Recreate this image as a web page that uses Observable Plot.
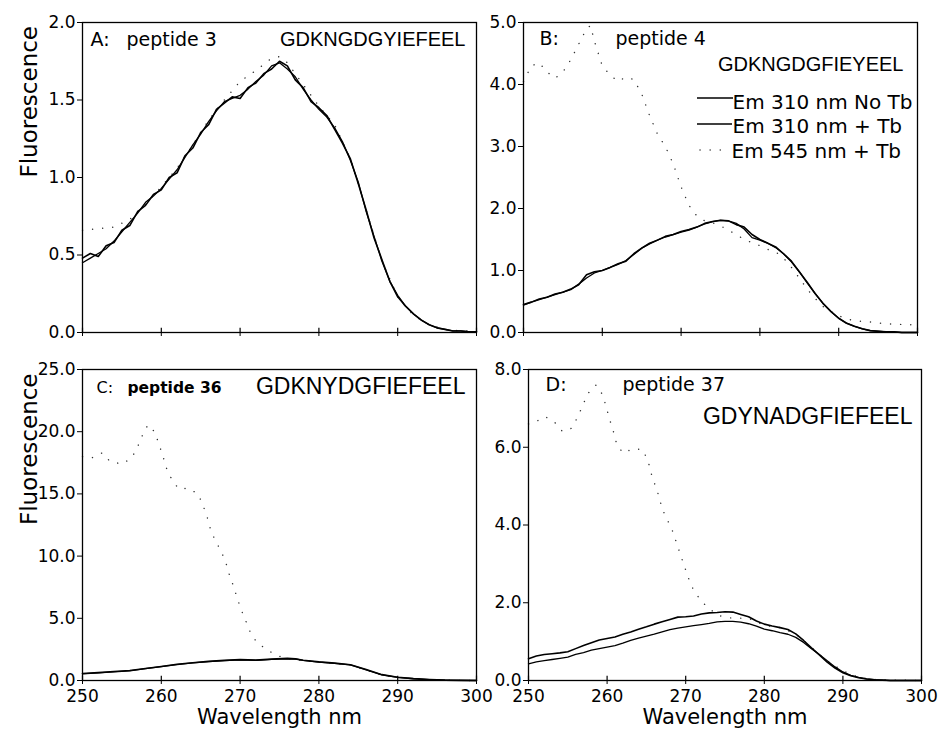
<!DOCTYPE html>
<html><head><meta charset="utf-8">
<script src="https://cdn.jsdelivr.net/npm/d3@7"></script>
<script src="https://cdn.jsdelivr.net/npm/@observablehq/plot@0.6"></script>
<style>
body{margin:0;background:#fff;}
#wrap{position:relative;width:939px;height:730px;overflow:hidden;background:#fff;}
#wrap svg{position:absolute;overflow:visible;}
</style></head><body><div id="wrap"></div>
<script>
// ---------- data ----------
const xTicks = [250, 260, 270, 280, 290, 300];
const seriesNames = ["Em 310 nm No Tb", "Em 310 nm + Tb", "Em 545 nm + Tb"];

// Panel A: peptide 3
const nmA = d3.range(250, 301, 1);
const aNoTb = [0.45,0.48,0.51,0.54,0.59,0.65,0.71,0.77,0.84,0.88,0.93,0.99,1.05,1.13,1.21,1.28,1.36,1.43,1.49,1.51,1.53,1.57,1.62,1.66,1.72,1.74,1.70,1.65,1.57,1.50,1.44,1.39,1.32,1.23,1.11,0.97,0.78,0.62,0.46,0.33,0.24,0.17,0.12,0.08,0.05,0.03,0.02,0.01,0.01,0.005,0.005];
const aTb   = [0.48,0.51,0.49,0.56,0.58,0.66,0.69,0.78,0.82,0.89,0.92,1.00,1.03,1.14,1.19,1.29,1.34,1.44,1.48,1.52,1.51,1.58,1.61,1.67,1.70,1.75,1.72,1.63,1.58,1.49,1.45,1.40,1.31,1.22,1.12,0.96,0.79,0.61,0.47,0.33,0.23,0.17,0.12,0.08,0.05,0.03,0.02,0.01,0.01,0.005,0.005];
const nmA545 = [250,252,254,256,258,260,262,264,266,268,270,272,274,275,276,278,280,282,284,286,288,290,292,294,296,298,300];
const aEm545 = [0.66,0.67,0.68,0.73,0.83,0.94,1.06,1.21,1.37,1.50,1.62,1.69,1.77,1.78,1.74,1.60,1.46,1.34,1.12,0.79,0.46,0.23,0.11,0.05,0.02,0.01,0.01];

// Panel B: peptide 4
const nmB = d3.range(250, 301, 1);
const bNoTb = [0.44,0.49,0.53,0.57,0.61,0.65,0.69,0.78,0.88,0.96,1.00,1.05,1.10,1.16,1.26,1.36,1.43,1.49,1.54,1.58,1.62,1.65,1.70,1.75,1.79,1.81,1.80,1.76,1.67,1.53,1.49,1.44,1.37,1.27,1.14,0.98,0.80,0.63,0.47,0.34,0.23,0.15,0.10,0.06,0.03,0.02,0.01,0.01,0,0,0];
const bTb   = [0.45,0.49,0.54,0.57,0.62,0.65,0.70,0.77,0.93,0.98,1.00,1.05,1.11,1.15,1.27,1.36,1.44,1.49,1.55,1.58,1.63,1.66,1.70,1.76,1.79,1.81,1.80,1.74,1.70,1.58,1.50,1.44,1.38,1.27,1.15,0.98,0.81,0.63,0.47,0.34,0.23,0.15,0.10,0.06,0.03,0.02,0.01,0.01,0,0,0];
const nmB545 = [250,251,252,253,254,255,256,257,258,258.5,259,260,261,262,263,264,265,266,267,268,269,270,271,272,273,274,275,276,277,278,279,280,281,282,283,284,285,286,287,288,289,290,291,292,294,296,298,300];
const bEm545 = [4.05,4.30,4.35,4.20,4.10,4.20,4.40,4.65,4.90,4.95,4.70,4.30,4.15,4.05,4.12,4.08,3.85,3.50,3.20,3.00,2.72,2.35,2.05,1.88,1.80,1.77,1.72,1.65,1.58,1.50,1.45,1.40,1.34,1.30,1.20,1.05,0.88,0.70,0.55,0.42,0.34,0.27,0.22,0.19,0.17,0.14,0.13,0.12];

// Panel C: peptide 36
const nmC = [250,252,254,256,258,260,262,264,266,268,270,272,274,276,277,278,280,282,284,286,288,290,292,294,296,298,300];
const cNoTb = [0.54,0.62,0.70,0.78,0.95,1.12,1.28,1.42,1.52,1.60,1.66,1.62,1.70,1.75,1.73,1.62,1.48,1.38,1.25,0.85,0.45,0.25,0.14,0.07,0.03,0.01,0];
const cTb   = [0.56,0.63,0.72,0.80,0.97,1.13,1.30,1.43,1.54,1.62,1.68,1.64,1.72,1.78,1.74,1.63,1.50,1.40,1.27,0.88,0.47,0.26,0.15,0.08,0.03,0.01,0];
const nmC545 = [250,251.2,252.5,253.5,255.1,256.3,257,257.6,258.3,259.2,259.7,260.2,260.6,261.3,262.2,263.5,264.7,265.3,265.8,266.2,266.8,267.6,268.2,268.6,269.1,269.6,270.1,270.7,271.3,272.1,273.4,274.7,276,278,280,282,284,286,288,290,292,294,296,298,300];
const cEm545 = [18.0,17.9,18.3,17.6,17.4,17.95,18.8,19.7,20.55,19.96,18.97,18.09,17.15,16.2,15.4,15.46,14.95,14.07,13.2,12.27,11.3,10.4,9.46,8.57,7.69,6.7,5.76,4.82,3.88,3.08,2.47,2.0,1.78,1.60,1.50,1.38,1.25,0.85,0.45,0.25,0.14,0.07,0.03,0.01,0];

// Panel D: peptide 37
const nmD = [250,251,252,253,254,255,256,257,258,259,260,261,262,263,264,265,266,267,268,269,270,271,272,273,274,275,276,277,278,279,280,281,282,283,284,285,286,287,288,289,290,291,292,293,294,295,296,300];
const dUpper = [0.56,0.63,0.67,0.69,0.71,0.74,0.82,0.90,0.97,1.04,1.08,1.12,1.19,1.25,1.32,1.38,1.45,1.51,1.57,1.63,1.64,1.66,1.71,1.74,1.75,1.77,1.76,1.70,1.64,1.53,1.45,1.40,1.36,1.31,1.20,1.03,0.84,0.66,0.47,0.32,0.20,0.12,0.07,0.04,0.02,0.01,0,0];
const dLower = [0.43,0.48,0.51,0.54,0.57,0.60,0.67,0.72,0.78,0.82,0.86,0.90,0.96,1.03,1.09,1.14,1.19,1.25,1.31,1.35,1.38,1.41,1.44,1.47,1.51,1.52,1.52,1.50,1.46,1.40,1.32,1.28,1.23,1.19,1.11,0.98,0.82,0.67,0.51,0.35,0.22,0.13,0.08,0.04,0.02,0.01,0,0];
const nmD545 = [250,250.7,252.1,253.3,254.3,255.5,256.2,256.9,257.5,258.6,259.4,259.9,260.3,260.8,261.2,262,263.3,264.5,265.2,265.6,266.1,266.6,267,267.6,268.3,268.8,269.3,269.8,270.3,270.9,271.7,272.7,274.2,275.7,278,280,282,284,286,288,290,292,294,296,300];
const dEm545 = [6.6,6.63,6.79,6.65,6.41,6.49,6.76,7.07,7.37,7.6,7.36,7.03,6.73,6.41,6.1,5.85,5.96,5.94,5.66,5.33,5.03,4.74,4.42,4.16,3.86,3.56,3.26,2.96,2.66,2.37,2.12,1.89,1.67,1.61,1.60,1.42,1.36,1.20,0.85,0.50,0.25,0.08,0.03,0.01,0];

// ---------- helpers ----------
const zip = (xs, ys, s) => xs.map((x, i) => ({nm: x, f: ys[i], series: s}));
const FONT = "DejaVu Sans";
const SEQFONT = "Liberation Sans";
const DOTS = "0.1,10";

function panel(cfg) {
  const yTicks = d3.range(0, cfg.yMax + 1e-9, cfg.yStep);
  const solid1 = zip(cfg.nm, cfg.s1, seriesNames[0]);
  const solid2 = zip(cfg.nm, cfg.s2, seriesNames[1]);
  const dotted = zip(cfg.nm545, cfg.s545, seriesNames[2]);
  const marks = [
    Plot.line(dotted, {x: "nm", y: "f", stroke: "#333", strokeWidth: 1.4, strokeDasharray: DOTS, strokeLinecap: "round"}),
    Plot.line(solid1, {x: "nm", y: "f", stroke: "#000", strokeWidth: 1.3}),
    Plot.line(solid2, {x: "nm", y: "f", stroke: "#000", strokeWidth: 1.6}),
    Plot.frame({stroke: "#000", strokeWidth: 1.3}),
    Plot.axisX({ticks: xTicks, tickSize: 4, tickPadding: 5, label: null,
      tickFormat: cfg.xLabels ? (d => d) : (() => ""), fontSize: 17, fontFamily: FONT}),
    Plot.ruleX(xTicks, {x: d => d, y1: 0, y2: cfg.yMax * 0.014, stroke: "#000", strokeWidth: 1.2}),
    Plot.axisY({ticks: yTicks, tickSize: 5, tickPadding: 2, label: null,
      tickFormat: d3.format(".1f"), fontSize: 17, fontFamily: FONT}),
  ];
  for (const t of cfg.texts) {
    marks.push(Plot.text([t.s], {text: d => d, frameAnchor: t.anchor, dx: t.dx, dy: t.dy,
      textAnchor: t.ta, lineAnchor: "top", fontSize: t.size, fontFamily: t.font || FONT,
      fontWeight: t.weight || "normal", fill: "#000"}));
  }
  if (cfg.yLabel) marks.push(Plot.text(["Fluorescence"], {text: d => d, frameAnchor: "left", rotate: -90,
      dx: -53, fontSize: 23, fontFamily: FONT, fill: "#000"}));
  if (cfg.xLabel) marks.push(Plot.text(["Wavelength nm"], {text: d => d, frameAnchor: "bottom",
      dy: 43, fontSize: 21, fontFamily: FONT, fill: "#000"}));
  const svg = Plot.plot({
    width: cfg.width, height: cfg.height,
    marginLeft: cfg.ml, marginRight: cfg.mr, marginTop: cfg.mt, marginBottom: cfg.mb,
    x: {domain: [250, 300]},
    y: {domain: [0, cfg.yMax]},
    style: {fontFamily: FONT, fontSize: "17px", color: "#000", background: "transparent", overflow: "visible"},
    marks
  });
  svg.style.left = cfg.left + "px";
  svg.style.top = cfg.top + "px";
  document.getElementById("wrap").appendChild(svg);
  return svg;
}

// Panel A
panel({left: 0, top: 0, width: 480, height: 345, ml: 82, mr: 4, mt: 22, mb: 13,
  yMax: 2, yStep: 0.5, nm: nmA, s1: aNoTb, s2: aTb, nm545: nmA545, s545: aEm545,
  xLabels: false, yLabel: true, xLabel: false,
  texts: [
    {s: "A:", anchor: "top-left", dx: 8, dy: 9.5, ta: "start", size: 19},
    {s: "peptide 3", anchor: "top-left", dx: 44, dy: 9.5, ta: "start", size: 19},
    {s: "GDKNGDGYIEFEEL", anchor: "top-right", dx: -11, dy: 9, ta: "end", size: 20, font: SEQFONT}
  ]});

// Panel B
const svgB = panel({left: 480, top: 0, width: 459, height: 345, ml: 43, mr: 22, mt: 22, mb: 13,
  yMax: 5, yStep: 1, nm: nmB, s1: bNoTb, s2: bTb, nm545: nmB545, s545: bEm545,
  xLabels: false, yLabel: false, xLabel: false,
  texts: [
    {s: "B:", anchor: "top-left", dx: 16, dy: 8.5, ta: "start", size: 19},
    {s: "peptide 4", anchor: "top-left", dx: 92, dy: 8.5, ta: "start", size: 19},
    {s: "GDKNGDGFIEYEEL", anchor: "top-right", dx: -14, dy: 34, ta: "end", size: 20, font: SEQFONT},
    {s: seriesNames[0], anchor: "top-left", dx: 209, dy: 72, ta: "start", size: 20},
    {s: seriesNames[1], anchor: "top-left", dx: 209, dy: 96, ta: "start", size: 20},
    {s: seriesNames[2], anchor: "top-left", dx: 208, dy: 121, ta: "start", size: 20}
  ]});
// legend sample lines (decoration)
{
  const g = d3.select(svgB).append("g").attr("stroke", "#000");
  g.append("line").attr("x1", 217).attr("x2", 253).attr("y1", 98).attr("y2", 98).attr("stroke-width", 1.3);
  g.append("line").attr("x1", 217).attr("x2", 252).attr("y1", 124).attr("y2", 124).attr("stroke-width", 1.6);
  g.append("line").attr("x1", 220).attr("x2", 250).attr("y1", 150).attr("y2", 150).attr("stroke-width", 1.4)
    .attr("stroke", "#333").attr("stroke-dasharray", DOTS).attr("stroke-linecap", "round");
}

// Panel C
panel({left: 0, top: 345, width: 480, height: 385, ml: 82, mr: 4, mt: 24, mb: 50,
  yMax: 25, yStep: 5, nm: nmC, s1: cNoTb, s2: cTb, nm545: nmC545, s545: cEm545,
  xLabels: true, yLabel: true, xLabel: true,
  texts: [
    {s: "C:", anchor: "top-left", dx: 14, dy: 12.5, ta: "start", size: 16},
    {s: "peptide 36", anchor: "top-left", dx: 45, dy: 12.5, ta: "start", size: 15.5, weight: "bold"},
    {s: "GDKNYDGFIEFEEL", anchor: "top-right", dx: -11, dy: 7.7, ta: "end", size: 23, font: SEQFONT}
  ]});

// Panel D
panel({left: 480, top: 345, width: 459, height: 385, ml: 48, mr: 18, mt: 24, mb: 50,
  yMax: 8, yStep: 2, nm: nmD, s1: dLower, s2: dUpper, nm545: nmD545, s545: dEm545,
  xLabels: true, yLabel: false, xLabel: true,
  texts: [
    {s: "D:", anchor: "top-left", dx: 17, dy: 7.5, ta: "start", size: 19},
    {s: "peptide 37", anchor: "top-left", dx: 94, dy: 7.5, ta: "start", size: 19},
    {s: "GDYNADGFIEFEEL", anchor: "top-right", dx: -9, dy: 37.7, ta: "end", size: 23, font: SEQFONT}
  ]});
</script>
</body></html>
